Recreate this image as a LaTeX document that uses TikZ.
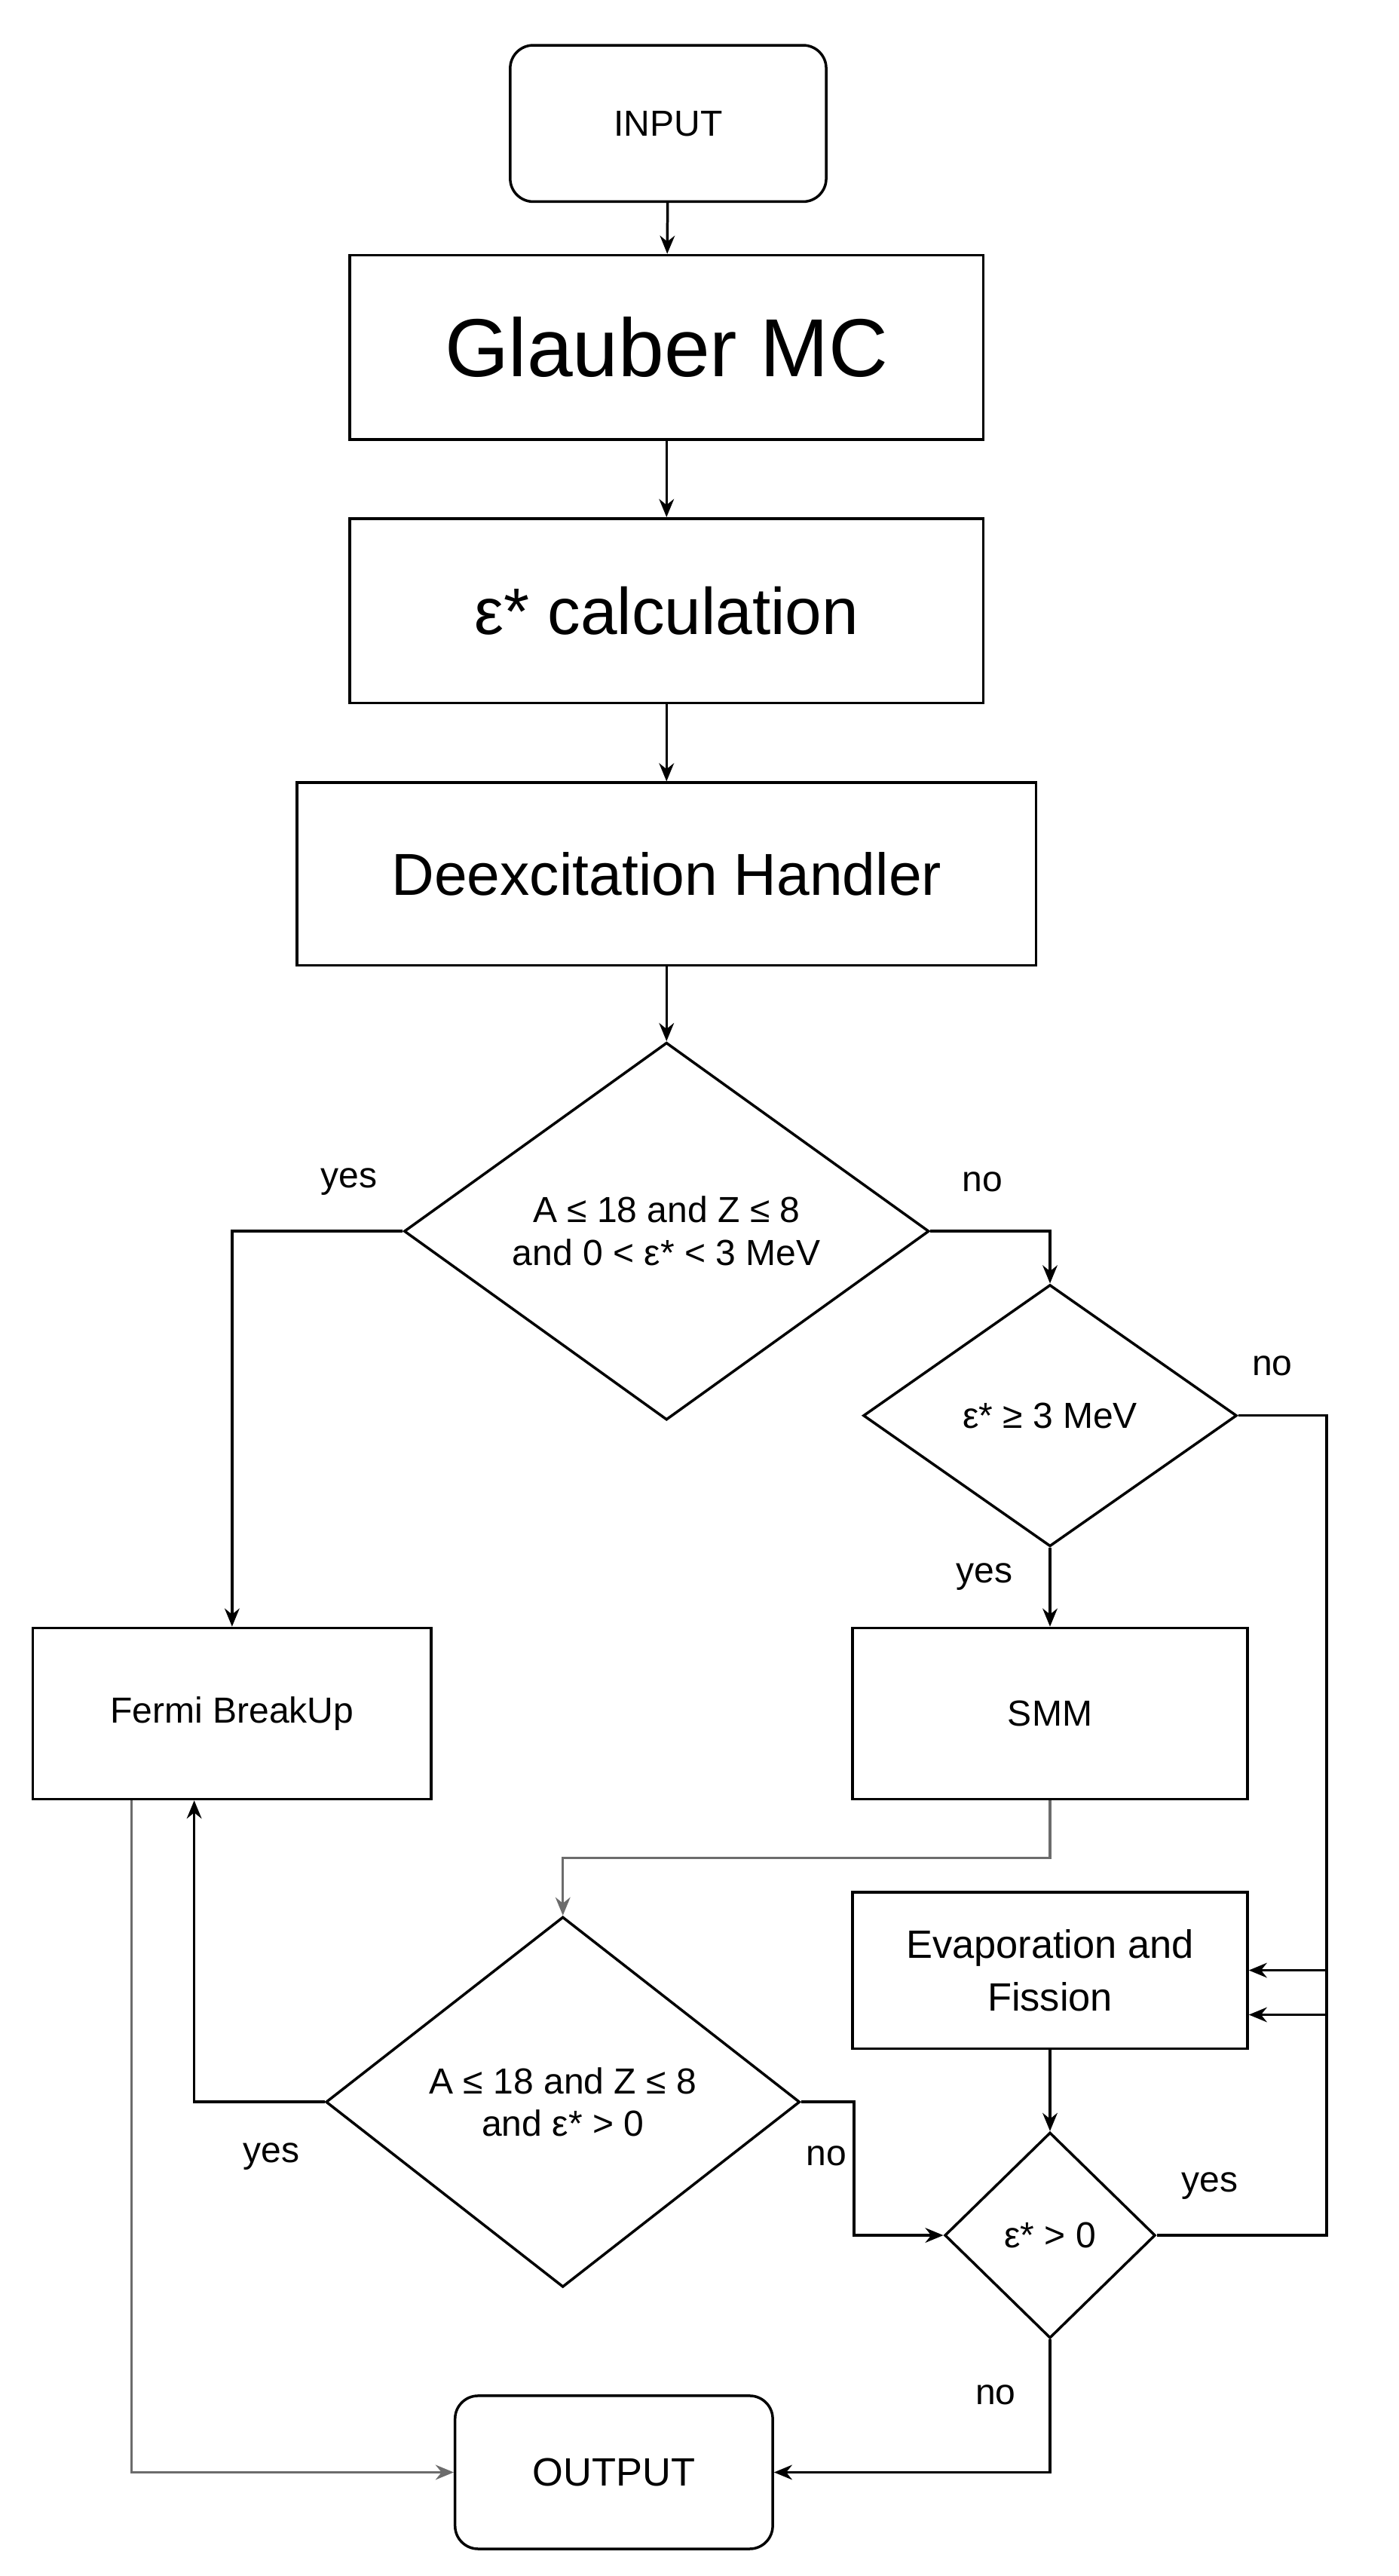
\documentclass[tikz,border=0pt]{standalone}
\usepackage{fontspec}
\setmainfont{Liberation Sans}
\usetikzlibrary{shapes.geometric,arrows.meta}
\begin{document}
\begin{tikzpicture}[x=1pt,y=-1pt,
 every node/.style={font=\fontsize{22}{26}\selectfont, line width=1.6pt, draw, inner sep=0},
 box/.style={rectangle, align=center},
 rbox/.style={rectangle, rounded corners=14pt, align=center},
 dia/.style={diamond, align=center},
 lab/.style={draw=none, font=\fontsize{22}{26}\selectfont},
 conn/.style={line width=1.6pt, -{Stealth[length=11pt,width=9pt]}},
 gconn/.style={conn, draw=gray!85!black}]
\fill[white] (0,0) rectangle (850,1565);
\useasboundingbox (0,0) rectangle (850,1565);
\node[rbox, minimum width=192pt, minimum height=95pt] (in) at (406,75) {INPUT};
\node[box, minimum width=385pt, minimum height=112pt, font=\fontsize{50}{58}\selectfont] (gl) at (405,211) {Glauber MC};
\node[box, minimum width=385pt, minimum height=112pt, font=\fontsize{40}{48}\selectfont] (ec) at (405,371) {ε* calculation};
\node[box, minimum width=449pt, minimum height=111pt, font=\fontsize{36}{44}\selectfont] (dh) at (405,531) {Deexcitation Handler};
\node[dia, minimum width=319pt, minimum height=224pt] (d1) at (405,748) {A ≤ 18 and Z ≤ 8\\and 0 < ε* < 3 MeV};
\node[dia, minimum width=227pt, minimum height=159pt] (d2) at (638,860) {ε* ≥ 3 MeV};
\node[box, minimum width=242pt, minimum height=104pt] (fb) at (141,1041) {Fermi BreakUp};
\node[box, minimum width=240pt, minimum height=104pt] (smm) at (638,1041) {SMM};
\node[box, minimum width=240pt, minimum height=95pt, font=\fontsize{24}{32}\selectfont] (ev) at (638,1197) {Evaporation and\\Fission};
\node[dia, minimum width=288pt, minimum height=225pt] (d3) at (342,1277) {A ≤ 18 and Z ≤ 8\\and ε* > 0};
\node[dia, minimum width=128pt, minimum height=125pt] (d4) at (638,1358) {ε* > 0};
\node[rbox, minimum width=193pt, minimum height=93pt, font=\fontsize{24}{28}\selectfont] (out) at (373,1502) {OUTPUT};
\coordinate (c1) at (806,860);
\coordinate (c2) at (806,1358);
\draw[conn] (in) -- (gl);
\draw[conn] (gl) -- (ec);
\draw[conn] (ec) -- (dh);
\draw[conn] (dh) -- (d1);
\draw[conn] (d1.west) -| (fb.north);
\draw[conn] (d1.east) -| (d2.north);
\draw[conn] (d2.east) -- (c1) |- ([yshift=-27pt]ev.east);
\draw[conn] (d2) -- (smm);
\draw[gconn] (smm.south) -- ++(0,35) -| (d3.north);
\draw[conn] (d3.west) -| ([xshift=-23pt]fb.south);
\draw[conn] (d3.east) -- ++(32,0) |- (d4.west);
\draw[conn] (ev) -- (d4);
\draw[conn] (d4.east) -- (c2) |- (ev.east);
\draw[conn] (d4.south) |- (out.east);
\draw[gconn] ([xshift=-61pt]fb.south) |- (out.west);
\node[lab] at (212,718) {yes};
\node[lab] at (597,718) {no};
\node[lab] at (773,830) {no};
\node[lab] at (598,958) {yes};
\node[lab] at (165,1310) {yes};
\node[lab] at (502,1310) {no};
\node[lab] at (735,1328) {yes};
\node[lab] at (605,1455) {no};
\end{tikzpicture}
\end{document}
